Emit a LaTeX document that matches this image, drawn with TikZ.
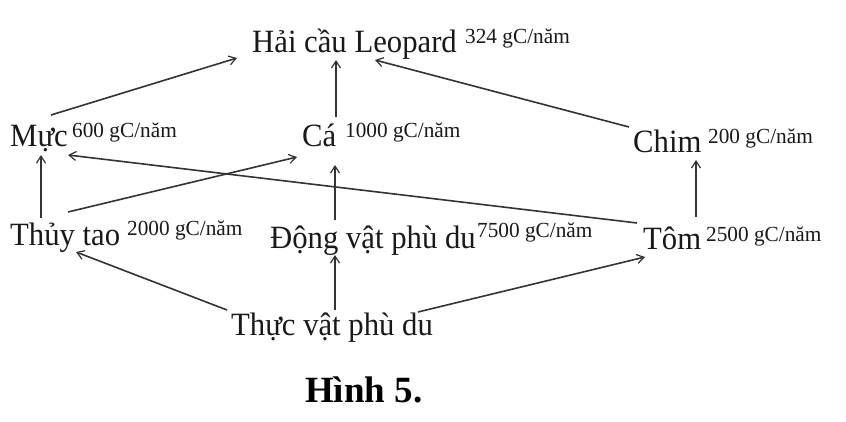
\documentclass[tikz,border=0pt]{standalone}
\usepackage{fontspec}
\setmainfont{Liberation Serif}
\newfontfamily\lblfont{Liberation Serif}[FakeStretch=0.945]
\newfontfamily\valfont{Liberation Serif}[FakeStretch=0.99]
\usetikzlibrary{arrows.meta,calc}
\begin{document}
\begin{tikzpicture}[x=1pt,y=-1pt,
  lbl/.style={anchor=base west,inner sep=0pt,font=\lblfont\fontsize{32.5}{36}\selectfont,text=black!90},
  val/.style={anchor=base west,inner sep=0pt,font=\valfont\fontsize{21.5}{24}\selectfont,text=black!90},
  arr/.style={-{Straight Barb[length=7pt,width=9pt,line width=1.2pt]},line width=1.6pt,draw=black!80}]
\useasboundingbox[fill=white] (0,0) rectangle (846,422);
% nodes
\node[lbl] (hai) at (252,53) {Hải cầu Leopard};
\node[val] (haiv) at (465,44) {324 gC/năm};
\node[lbl] (muc) at (10,147) {Mực};
\node[val] (mucv) at (72,138) {600 gC/năm};
\node[lbl] (ca) at (302,147) {Cá};
\node[val] (cav) at (345,138) {1000 gC/năm};
\node[lbl] (chim) at (633,153) {Chim};
\node[val] (chimv) at (708,144) {200 gC/năm};
\node[lbl] (thuy) at (10,245) {Thủy tao};
\node[val] (thuyv) at (127,236) {2000 gC/năm};
\node[lbl] (dong) at (270,248) {Động vật phù du};
\node[val] (dongv) at (477,237) {7500 gC/năm};
\node[lbl] (tom) at (643,250) {Tôm};
\node[val] (tomv) at (706,241) {2500 gC/năm};
\node[lbl] (thuc) at (231,335) {Thực vật phù du};
\node[anchor=base west,inner sep=0pt,font=\fontsize{37}{42}\selectfont\bfseries,text=black] (hinh) at (305,402) {Hình 5.};
% connectors
\draw[arr] ($(muc.base west)+(41,-32)$) -- ($(hai.base west)+(-15,5)$);
\draw[arr] ($(ca.base west)+(34,-30)$) -- ($(hai.base west)+(84,7)$);
\draw[arr] ($(chim.base west)+(-4,-26)$) -- ($(hai.base west)+(123,7)$);
\draw[arr] ($(thuy.base west)+(31,-27)$) -- ($(muc.base west)+(31,8)$);
\draw[arr] ($(thuy.base west)+(58,-33)$) -- ($(ca.base west)+(-5,10)$);
\draw[arr] ($(tom.base west)+(-6,-27)$) -- ($(muc.base west)+(58,8)$);
\draw[arr] ($(dong.base west)+(65,-28)$) -- ($(ca.base west)+(33,18)$);
\draw[arr] ($(tom.base west)+(53,-33)$) -- ($(chim.base west)+(63,7)$);
\draw[arr] ($(thuc.base west)+(-4,-25)$) -- ($(thuy.base west)+(66,7)$);
\draw[arr] ($(thuc.base west)+(104,-25)$) -- ($(dong.base west)+(65,7)$);
\draw[arr] ($(thuc.base west)+(187,-23)$) -- ($(tom.base west)+(2,7)$);
\end{tikzpicture}
\end{document}
